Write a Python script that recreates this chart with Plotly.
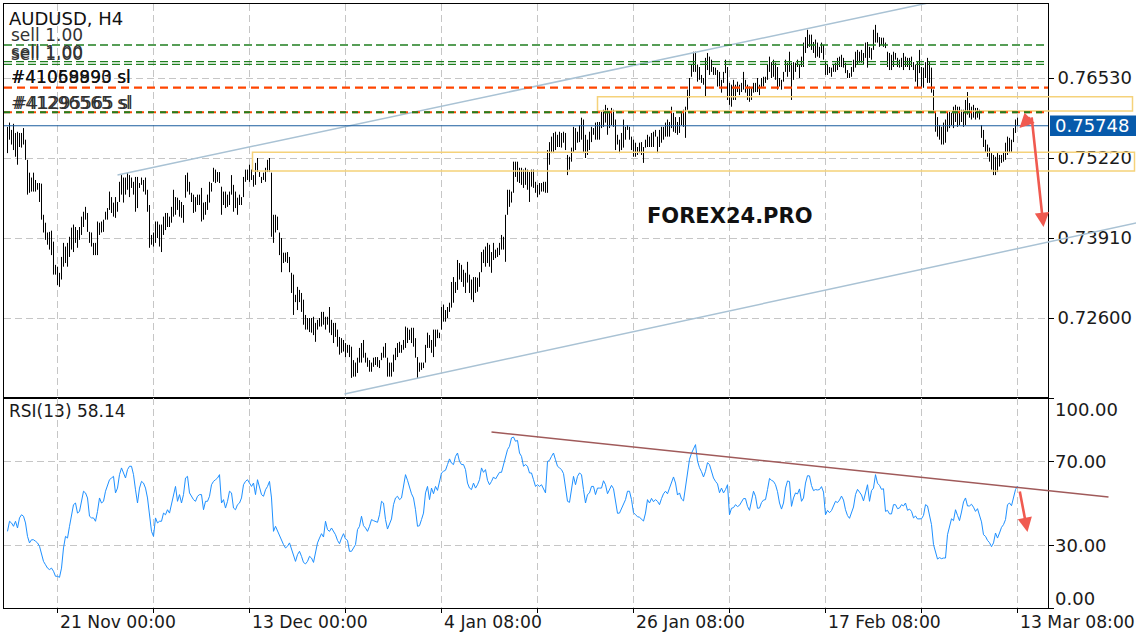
import plotly.graph_objects as go

# ---------------- data ----------------
SYMBOL = "AUDUSD, H4"
RSI_TITLE = "RSI(13) 58.14"
WATERMARK = "FOREX24.PRO"

# H4 bar highs / lows in 1e-4 price units (0.7573 -> 7573)
HIGH = [
 7573, 7580, 7568, 7578, 7563, 7565, 7563, 7563, 7571, 7552,
 7519, 7498, 7490, 7498, 7486, 7481, 7481, 7480, 7429, 7416,
 7400, 7401, 7403, 7385, 7347, 7344, 7334, 7360, 7383, 7377,
 7383, 7393, 7408, 7413, 7409, 7404, 7409, 7426, 7434, 7442,
 7432, 7401, 7400, 7383, 7383, 7418, 7416, 7418, 7421, 7434,
 7440, 7467, 7458, 7449, 7458, 7450, 7483, 7494, 7490, 7490,
 7498, 7494, 7490, 7483, 7491, 7491, 7481, 7490, 7486, 7490,
 7470, 7445, 7396, 7400, 7418, 7418, 7413, 7413, 7426, 7432,
 7432, 7426, 7442, 7470, 7458, 7457, 7453, 7450, 7445, 7494,
 7498, 7483, 7465, 7462, 7458, 7462, 7462, 7473, 7449, 7450,
 7462, 7483, 7481, 7506, 7503, 7499, 7499, 7475, 7467, 7467,
 7462, 7467, 7494, 7478, 7467, 7457, 7462, 7458, 7491, 7503,
 7503, 7511, 7503, 7494, 7514, 7522, 7499, 7491, 7498, 7506,
 7519, 7522, 7498, 7429, 7429, 7426, 7400, 7391, 7367, 7367,
 7368, 7360, 7334, 7331, 7298, 7311, 7306, 7301, 7290, 7265,
 7260, 7260, 7260, 7262, 7252, 7257, 7260, 7270, 7270, 7262,
 7262, 7278, 7257, 7252, 7252, 7241, 7229, 7227, 7224, 7219,
 7216, 7216, 7213, 7191, 7187, 7195, 7211, 7219, 7224, 7203,
 7195, 7191, 7187, 7195, 7196, 7196, 7191, 7203, 7213, 7219,
 7195, 7187, 7187, 7200, 7211, 7219, 7221, 7216, 7224, 7246,
 7244, 7241, 7244, 7244, 7227, 7196, 7187, 7187, 7187, 7216,
 7236, 7232, 7224, 7241, 7241, 7241, 7236, 7278, 7282, 7273,
 7278, 7285, 7319, 7327, 7319, 7355, 7350, 7347, 7339, 7334,
 7352, 7331, 7323, 7327, 7327, 7326, 7335, 7368, 7372, 7377,
 7383, 7380, 7368, 7383, 7372, 7375, 7383, 7396, 7393, 7429,
 7470, 7470, 7467, 7516, 7516, 7516, 7506, 7506, 7503, 7506,
 7503, 7499, 7503, 7503, 7483, 7478, 7481, 7481, 7483, 7483,
 7535, 7548, 7557, 7563, 7565, 7560, 7565, 7563, 7565, 7563,
 7527, 7524, 7539, 7573, 7571, 7565, 7576, 7588, 7585, 7560,
 7552, 7565, 7573, 7571, 7580, 7581, 7581, 7598, 7601, 7609,
 7604, 7596, 7604, 7601, 7585, 7560, 7552, 7563, 7585, 7573,
 7576, 7573, 7557, 7552, 7547, 7540, 7547, 7548, 7540, 7552,
 7560, 7557, 7563, 7565, 7568, 7557, 7568, 7573, 7573, 7580,
 7585, 7581, 7606, 7596, 7589, 7581, 7589, 7598, 7601, 7606,
 7634, 7653, 7675, 7696, 7696, 7675, 7671, 7658, 7653, 7686,
 7694, 7688, 7683, 7671, 7670, 7666, 7663, 7650, 7663, 7683,
 7671, 7645, 7642, 7650, 7642, 7647, 7642, 7645, 7663, 7650,
 7642, 7639, 7637, 7645, 7645, 7653, 7642, 7653, 7655, 7655,
 7675, 7688, 7679, 7683, 7678, 7671, 7653, 7650, 7663, 7683,
 7678, 7696, 7678, 7679, 7678, 7683, 7675, 7688, 7711, 7720,
 7732, 7724, 7724, 7712, 7716, 7711, 7704, 7711, 7707, 7679,
 7675, 7671, 7670, 7675, 7678, 7686, 7688, 7691, 7686, 7678,
 7666, 7661, 7671, 7683, 7696, 7699, 7696, 7699, 7694, 7711,
 7712, 7704, 7702, 7732, 7740, 7727, 7720, 7719, 7719, 7711,
 7696, 7694, 7691, 7696, 7694, 7686, 7683, 7686, 7694, 7688,
 7686, 7686, 7688, 7679, 7675, 7679, 7699, 7671, 7670, 7679,
 7686, 7679, 7670, 7634, 7596, 7589, 7576, 7573, 7580, 7585,
 7596, 7598, 7596, 7606, 7609, 7606, 7606, 7601, 7601, 7617,
 7630, 7612, 7606, 7609, 7604, 7604, 7601, 7576, 7568, 7552,
 7544, 7539, 7530, 7527, 7524, 7530, 7527, 7527, 7532, 7547,
 7557, 7555, 7552, 7571, 7585, 7588,
]
LOW = [
 7530, 7552, 7544, 7535, 7524, 7511, 7540, 7539, 7544, 7519,
 7462, 7465, 7467, 7467, 7467, 7470, 7450, 7421, 7400, 7388,
 7380, 7372, 7363, 7331, 7331, 7314, 7311, 7323, 7344, 7350,
 7344, 7360, 7372, 7368, 7383, 7375, 7388, 7396, 7409, 7421,
 7401, 7383, 7377, 7363, 7363, 7363, 7396, 7400, 7401, 7421,
 7421, 7437, 7432, 7426, 7424, 7434, 7450, 7462, 7449, 7462,
 7470, 7458, 7473, 7462, 7434, 7440, 7473, 7478, 7467, 7462,
 7434, 7375, 7380, 7377, 7383, 7391, 7377, 7368, 7396, 7404,
 7409, 7409, 7416, 7426, 7429, 7437, 7426, 7424, 7416, 7457,
 7467, 7462, 7450, 7432, 7434, 7445, 7445, 7418, 7421, 7429,
 7437, 7449, 7467, 7483, 7481, 7483, 7481, 7429, 7445, 7440,
 7442, 7445, 7462, 7434, 7440, 7429, 7445, 7445, 7458, 7483,
 7486, 7483, 7486, 7475, 7478, 7499, 7491, 7481, 7486, 7483,
 7499, 7499, 7393, 7383, 7400, 7404, 7363, 7335, 7350, 7352,
 7350, 7335, 7301, 7265, 7286, 7273, 7286, 7270, 7249, 7241,
 7241, 7237, 7236, 7232, 7221, 7241, 7246, 7246, 7249, 7241,
 7249, 7236, 7232, 7219, 7229, 7213, 7200, 7203, 7205, 7196,
 7203, 7196, 7162, 7164, 7164, 7170, 7187, 7187, 7195, 7187,
 7180, 7172, 7172, 7180, 7183, 7180, 7178, 7191, 7195, 7195,
 7164, 7164, 7164, 7172, 7191, 7196, 7203, 7203, 7208, 7211,
 7219, 7224, 7219, 7213, 7195, 7162, 7172, 7175, 7178, 7187,
 7211, 7211, 7203, 7196, 7213, 7227, 7227, 7241, 7254, 7254,
 7260, 7270, 7277, 7285, 7301, 7306, 7323, 7319, 7311, 7301,
 7318, 7301, 7290, 7286, 7301, 7303, 7311, 7335, 7350, 7344,
 7350, 7344, 7334, 7355, 7358, 7360, 7363, 7372, 7372, 7352,
 7429, 7442, 7449, 7465, 7491, 7483, 7481, 7478, 7473, 7478,
 7470, 7450, 7475, 7473, 7465, 7458, 7462, 7467, 7467, 7465,
 7465, 7511, 7530, 7530, 7535, 7540, 7540, 7539, 7547, 7535,
 7494, 7503, 7516, 7532, 7535, 7547, 7548, 7552, 7530, 7522,
 7527, 7535, 7548, 7560, 7552, 7552, 7552, 7571, 7573, 7580,
 7560, 7571, 7576, 7573, 7535, 7544, 7530, 7535, 7539, 7552,
 7568, 7552, 7535, 7524, 7524, 7527, 7530, 7527, 7514, 7539,
 7540, 7540, 7540, 7540, 7557, 7530, 7540, 7547, 7552, 7557,
 7557, 7557, 7571, 7565, 7563, 7560, 7563, 7576, 7573, 7555,
 7601, 7620, 7655, 7663, 7663, 7647, 7650, 7645, 7642, 7622,
 7666, 7658, 7663, 7658, 7658, 7639, 7639, 7629, 7645, 7661,
 7617, 7609, 7606, 7617, 7617, 7630, 7625, 7630, 7634, 7629,
 7617, 7614, 7617, 7629, 7630, 7630, 7625, 7637, 7639, 7645,
 7650, 7663, 7653, 7655, 7650, 7634, 7639, 7634, 7647, 7663,
 7655, 7663, 7617, 7650, 7663, 7671, 7653, 7671, 7671, 7694,
 7702, 7704, 7699, 7694, 7686, 7688, 7686, 7694, 7683, 7658,
 7658, 7661, 7655, 7663, 7663, 7666, 7671, 7671, 7670, 7661,
 7653, 7653, 7655, 7663, 7670, 7675, 7678, 7678, 7675, 7686,
 7670, 7686, 7683, 7699, 7711, 7711, 7704, 7707, 7704, 7702,
 7671, 7666, 7666, 7671, 7683, 7671, 7670, 7671, 7666, 7671,
 7671, 7666, 7671, 7666, 7647, 7637, 7661, 7637, 7637, 7653,
 7645, 7645, 7629, 7596, 7565, 7557, 7552, 7544, 7544, 7547,
 7565, 7571, 7576, 7571, 7581, 7573, 7576, 7581, 7573, 7576,
 7593, 7588, 7585, 7588, 7585, 7588, 7585, 7555, 7540, 7532,
 7524, 7516, 7503, 7494, 7494, 7499, 7508, 7514, 7516, 7519,
 7527, 7530, 7532, 7548, 7563, 7575,
]
RSI = [
 36.5, 41.3, 40.5, 38.9, 41.3, 38.1, 42.9, 44.4, 43.7, 40.5,
 34.1, 31.0, 32.5, 32.5, 31.8, 31.0, 29.4, 26.2, 22.2, 20.6,
 19.0, 18.3, 19.0, 17.5, 15.1, 15.1, 14.6, 19.0, 28.6, 34.1,
 33.3, 38.9, 43.7, 49.2, 50.0, 45.2, 46.0, 50.8, 55.6, 54.8,
 52.4, 43.7, 42.9, 42.9, 41.3, 46.0, 52.4, 50.0, 50.8, 55.6,
 58.7, 61.1, 61.9, 62.7, 54.8, 57.1, 63.5, 66.7, 64.3, 61.9,
 65.9, 67.5, 67.5, 63.5, 56.3, 50.0, 57.1, 60.3, 59.5, 57.1,
 52.4, 42.9, 36.5, 34.1, 42.9, 40.5, 41.3, 41.3, 45.2, 44.4,
 46.8, 45.2, 49.2, 54.0, 57.9, 50.8, 54.0, 50.0, 54.0, 61.9,
 62.7, 54.8, 53.2, 51.6, 50.8, 53.2, 54.0, 54.0, 46.8, 50.8,
 50.8, 53.2, 58.7, 60.3, 61.1, 61.9, 63.5, 50.0, 51.6, 47.6,
 50.8, 55.6, 54.8, 47.6, 46.8, 49.2, 50.0, 52.4, 58.7, 60.3,
 61.1, 59.5, 57.9, 59.5, 54.0, 61.1, 57.9, 54.0, 53.2, 56.3,
 57.9, 60.3, 52.4, 36.5, 38.9, 36.5, 34.1, 32.5, 30.2, 28.6,
 29.4, 31.0, 27.8, 25.4, 22.2, 25.4, 27.0, 24.6,
 21.7, 21.0, 22.2, 24.6, 23.8, 21.7, 26.2, 31.0, 33.3, 35.4,
 33.8, 41.3, 37.3, 36.5, 38.1, 36.5, 34.9, 32.2, 30.6, 33.3,
 35.4, 32.9, 32.2, 27.0, 27.0, 28.6, 30.2, 37.3, 38.9, 43.7,
 39.2, 38.1, 36.5, 38.9, 42.1, 41.6, 41.3, 40.8, 44.4, 50.8,
 50.0, 42.1, 37.6, 39.7, 42.4, 49.2, 52.4, 53.2, 51.6, 52.4,
 57.1, 63.5, 60.8, 57.1, 54.4, 52.4, 46.8, 38.9, 39.2, 42.1,
 45.2, 54.8, 57.9, 51.6, 57.1, 54.4, 57.9, 56.0, 60.3, 64.3,
 65.1, 65.6, 68.3, 71.0, 69.0, 68.3, 72.2, 73.8, 69.8, 68.3,
 68.3, 65.9, 59.5, 57.1, 56.4, 59.5, 57.1, 58.7, 61.1, 66.7,
 64.6, 65.9, 60.8, 58.7, 60.3, 62.4, 61.4, 63.0, 64.6, 64.6,
 68.3, 73.0, 75.4, 77.0, 81.0, 81.4, 79.4, 79.8, 73.8, 72.2,
 67.5, 68.3, 67.5, 64.3, 64.3, 61.1, 57.9, 58.7, 57.9, 58.7,
 56.4, 54.8, 69.8, 70.3, 72.2, 73.8, 70.6, 67.5, 66.7, 65.9,
 64.0, 57.9, 50.8, 50.3, 57.1, 62.7, 58.7, 62.7, 64.3, 63.5,
 56.4, 50.0, 54.0, 54.8,
 57.9, 57.9, 54.0, 57.1, 57.1, 57.1, 60.6, 58.7, 54.4, 56.7,
 58.4, 56.8, 51.6, 45.1, 45.2, 47.1, 49.5, 51.6, 55.6, 55.6,
 51.6, 45.4, 44.4, 43.5, 43.2, 42.4, 41.4, 45.2, 51.6, 50.0,
 52.2, 50.6, 51.6, 50.8, 49.2, 52.1, 54.4, 55.6, 54.4, 57.1,
 60.2, 62.4, 59.5, 53.8, 54.8, 51.9, 51.0, 57.9, 66.5, 70.8,
 73.7, 75.7, 77.8, 70.0, 66.8, 64.9, 62.4, 65.1, 69.2, 68.3,
 65.1, 61.9, 60.3, 59.1, 54.9, 57.1, 54.8, 56.4, 58.7, 44.4,
 47.5, 47.8, 49.2, 48.3, 48.9, 50.3, 52.1, 52.1, 48.4, 46.5,
 51.6, 55.6, 53.2, 47.5, 47.6, 50.2, 51.4, 51.6, 56.4, 61.7,
 60.8, 60.3, 58.7, 55.4, 50.0, 47.1, 50.0, 57.1, 60.5, 60.2,
 48.4, 52.4, 54.8, 54.3, 56.7, 50.8, 52.4, 59.5, 63.0, 62.9,
 58.3, 55.9, 56.4, 56.2, 56.4, 57.8, 55.2, 44.4, 46.5, 45.4,
 46.4, 48.7, 50.8, 50.2, 51.4, 53.3, 51.4, 46.8, 44.0, 42.7,
 46.0, 48.1, 54.0, 56.5, 55.2, 53.8, 51.0, 54.8, 58.7, 50.8,
 55.9, 57.1, 63.5, 59.4, 58.4, 56.5, 56.8, 46.0, 46.5, 44.8,
 44.8, 49.2, 49.2, 47.3, 47.6, 49.2, 48.6, 50.0, 46.5, 47.1,
 46.0, 42.9, 43.8, 42.4, 42.5, 42.5, 44.1, 49.2, 48.6, 43.5,
 39.7, 30.2, 27.0, 23.3, 24.0, 23.5, 23.8, 23.8, 34.9, 38.1,
 42.5, 41.6, 46.8, 44.1, 41.6, 45.7, 50.5, 52.4, 48.6, 48.6,
 49.4, 48.0, 46.0, 47.3, 44.1, 41.0, 34.9, 34.1, 32.2, 31.1,
 29.2, 31.0, 35.7, 33.3, 35.7, 38.4, 39.7, 42.1, 49.2, 50.0,
 48.7, 52.4, 56.4, 58.14,
]

CLOSE = 0.75748
PRICE_TICKS = [0.72600, 0.73910, 0.75220, 0.76530]
RSI_TICKS = [0, 30, 70, 100]
RSI_TICK_LABELS = ["0.00", "30.00", "70.00", "100.00"]
GRID_IDX = [25, 73, 121, 169, 217, 265, 313, 361, 409, 457, 505]
DATE_IDX = [25, 121, 217, 313, 409, 505]
DATE_LABELS = ["21 Nov 00:00", "13 Dec 00:00", "4 Jan 08:00",
               "26 Jan 08:00", "17 Feb 08:00", "13 Mar 08:00"]
GREEN_LEVELS = [0.77070, 0.76797, 0.76754]
RED_SL_LEVEL = 0.76371
MIX_SL_LEVEL = 0.75968
ZONES = [(295, 562.5, 0.75990, 0.76222), (122.5, 563.5, 0.75007, 0.75315)]
CHANNEL_UP = [(55, 0.74942), (463, 0.77777)]
CHANNEL_LO = [(168.5, 0.71356), (564.5, 0.74156)]
RSI_TREND = [(242, 83.8), (550.5, 52.9)]
ARROW_DOWN = ((512, 0.75908), (518, 0.74090))
ARROW_UP = ((512, 0.75908), (506, 0.75711))
RSI_ARROW = ((506, 56.2), (510, 36.2))

# ---------------- geometry ----------------
W, H = 1136, 640
ML, MR, MT, MB = 4, 88, 4, 32
XMIN, XMAX = -1.75, 520.25
PMIN, PMAX = 0.7129, 0.7774175
SPLIT = 210 / 604.0
FONT = "DejaVu Sans"
GRID = "#c6c6c6"
GREEN = "#1f7f1f"
RED = "#ff4500"
ARROW_C = "#f05a50"


def xp(idx):
    return (idx - XMIN) / (XMAX - XMIN)


def px2paper_x(px):
    return (px - ML) / (W - ML - MR)


def py2paper_y(py):
    return (H - MB - py) / (H - MT - MB)


n = min(len(HIGH), len(LOW))
bx, by = [], []
for i in range(n):
    bx += [i, i, None]
    by += [LOW[i] / 1e4, HIGH[i] / 1e4, None]

fig = go.Figure()
fig.add_trace(go.Scatter(x=bx, y=by, mode="lines", xaxis="x", yaxis="y",
                         line=dict(color="black", width=1), hoverinfo="skip",
                         connectgaps=False))
fig.add_trace(go.Scatter(x=list(range(len(RSI))), y=RSI, mode="lines",
                         xaxis="x2", yaxis="y2",
                         line=dict(color="#1e90ff", width=1), hoverinfo="skip"))

shapes = []
# zones (yellow rectangles)
for x0, x1, y0, y1 in ZONES:
    shapes.append(dict(type="rect", xref="paper", yref="y", x0=xp(x0), x1=xp(x1),
                       y0=y0, y1=y1, line=dict(color="#f5d27a", width=1.5),
                       fillcolor="rgba(255,255,255,0)", layer="above"))
# channel lines
for (a, b) in (CHANNEL_UP, CHANNEL_LO):
    shapes.append(dict(type="line", xref="paper", yref="y", x0=xp(a[0]), y0=a[1],
                       x1=xp(b[0]), y1=b[1], line=dict(color="#a9c2d4", width=1.5)))
# level lines
for lv in GREEN_LEVELS:
    shapes.append(dict(type="line", xref="paper", yref="y", x0=0, x1=1, y0=lv, y1=lv,
                       line=dict(color=GREEN, width=1.3, dash="8px,4px")))
shapes.append(dict(type="line", xref="paper", yref="y", x0=0, x1=1,
                   y0=RED_SL_LEVEL, y1=RED_SL_LEVEL,
                   line=dict(color=RED, width=2.2, dash="8px,5px")))
shapes.append(dict(type="line", xref="paper", yref="y", x0=0, x1=1,
                   y0=MIX_SL_LEVEL, y1=MIX_SL_LEVEL,
                   line=dict(color=RED, width=2, dash="8px,4px")))
shapes.append(dict(type="line", xref="paper", yref="y", x0=0, x1=1,
                   y0=MIX_SL_LEVEL, y1=MIX_SL_LEVEL,
                   line=dict(color=GREEN, width=2, dash="6px,6px")))
# current price line
shapes.append(dict(type="line", xref="paper", yref="y", x0=0, x1=1, y0=CLOSE, y1=CLOSE,
                   line=dict(color="#1a5c9e", width=1.2)))
# current price label box
shapes.append(dict(type="rect", xref="paper", yref="y",
                   x0=px2paper_x(1050), x1=px2paper_x(1136),
                   y0=CLOSE - 0.00168, y1=CLOSE + 0.00168,
                   line=dict(width=0), fillcolor="#075aab"))
# RSI trend line
shapes.append(dict(type="line", xref="paper", yref="y2",
                   x0=xp(RSI_TREND[0][0]), y0=RSI_TREND[0][1],
                   x1=xp(RSI_TREND[1][0]), y1=RSI_TREND[1][1],
                   line=dict(color="#a05a5a", width=1.5)))

ann = []


def txt(text, px, py, size=17, color="#1a1a1a", anchor="left"):
    ann.append(dict(text=text, xref="paper", yref="paper", x=px2paper_x(px),
                    y=py2paper_y(py), xanchor=anchor, yanchor="middle", showarrow=False,
                    font=dict(family=FONT, size=size, color=color)))


txt(SYMBOL, 7, 19, 18, "#111111")
txt("sell 1.00", 9, 35, 17, "#333333")
txt("sell 1.00", 9, 52, 17, "#333333")
txt("sell 1.00", 9, 54, 17, "#333333")
txt("#41059990 sl", 9, 77.5, 17, "#111111")
txt("#41068893 sl", 9, 77.5, 17, "#111111")
txt("#41296565 sl", 9, 102.5, 17, "#333333")
txt("#41295565 sl", 11, 102.5, 17, "#333333")
txt(RSI_TITLE, 7, 411, 17, "#1a1a1a")
txt("<b>" + WATERMARK + "</b>", 730, 216, 21, "#111111", anchor="center")

# RSI axis labels (outer ones are nudged inside the pane as in the original)
rsi_label_py = {0: 598, 30: 545, 70: 461, 100: 409}
for v, lab in zip(RSI_TICKS, RSI_TICK_LABELS):
    txt(lab, 1053, rsi_label_py[v], 18, "#1a1a1a")

# current price label text
ann.append(dict(text=f"{CLOSE:.5f}", xref="paper", yref="y", x=px2paper_x(1053), y=CLOSE,
                xanchor="left", yanchor="middle", showarrow=False,
                font=dict(family=FONT, size=18, color="white")))

# date labels
for idx, lab in zip(DATE_IDX, DATE_LABELS):
    ann.append(dict(text=lab, xref="x2", yref="paper", x=idx, y=py2paper_y(622),
                    xanchor="left", yanchor="middle", showarrow=False,
                    font=dict(family=FONT, size=17.2, color="#1a1a1a")))

# arrows
for (tail, tip), xr, yr in ((ARROW_DOWN, "x", "y"), (ARROW_UP, "x", "y"),
                            (RSI_ARROW, "x2", "y2")):
    ann.append(dict(text="", x=tip[0], y=tip[1], ax=tail[0], ay=tail[1],
                    xref=xr, yref=yr, axref=xr, ayref=yr, showarrow=True,
                    arrowhead=2, arrowsize=1.1, arrowwidth=2.6, arrowcolor=ARROW_C,
                    standoff=0, startstandoff=0))

axis_common = dict(showgrid=True, gridcolor=GRID, griddash="7px,4px", gridwidth=1,
                   zeroline=False, showline=True, linecolor="black", linewidth=1,
                   mirror=True)

fig.update_layout(
    width=W, height=H,
    margin=dict(l=ML, r=MR, t=MT, b=MB),
    paper_bgcolor="white", plot_bgcolor="white",
    showlegend=False,
    font=dict(family=FONT, color="#1a1a1a"),
    xaxis=dict(domain=[0, 1], anchor="y", range=[XMIN, XMAX], tickmode="array",
               tickvals=GRID_IDX, showticklabels=False, ticks="", **axis_common),
    xaxis2=dict(domain=[0, 1], anchor="y2", range=[XMIN, XMAX], matches="x",
                tickmode="array", tickvals=GRID_IDX, showticklabels=False,
                ticks="outside", ticklen=4, tickcolor="black", **axis_common),
    yaxis=dict(domain=[SPLIT, 1], anchor="x", side="right", range=[PMIN, PMAX],
               tickmode="array", tickvals=PRICE_TICKS,
               ticktext=[f"{v:.5f}" for v in PRICE_TICKS],
               ticks="outside", ticklen=5, tickcolor="black",
               tickfont=dict(family=FONT, size=18, color="#1a1a1a"), **axis_common),
    yaxis2=dict(domain=[0, SPLIT], anchor="x2", side="right", range=[0, 100],
                tickmode="array", tickvals=RSI_TICKS, showticklabels=False,
                ticks="outside", ticklen=5, tickcolor="black", **axis_common),
    shapes=shapes,
    annotations=ann,
)

fig.write_html(
    "out.html",
    config={"displayModeBar": False},
    post_script="document.body.style.margin='0px';document.body.style.overflow='hidden';",
)
